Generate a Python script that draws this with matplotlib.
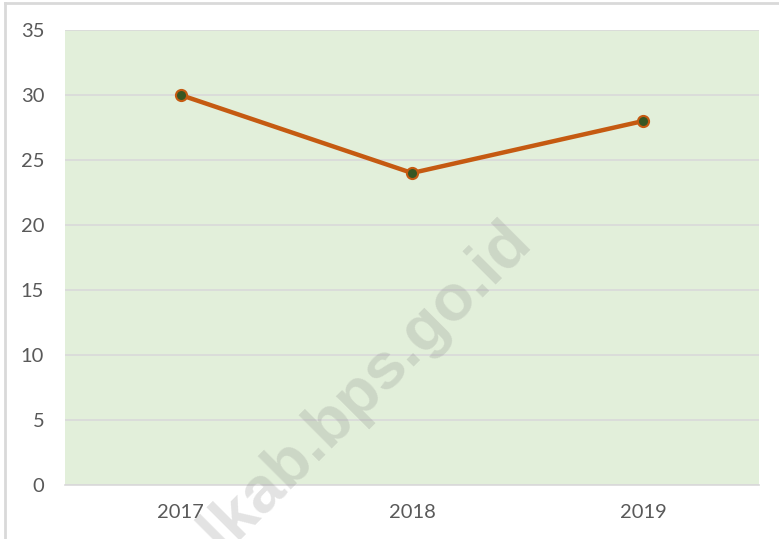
import matplotlib
matplotlib.use("Agg")
import matplotlib.pyplot as plt

years = ["2017", "2018", "2019"]
values = [30, 24, 28]
yticks = [0, 5, 10, 15, 20, 25, 30, 35]

line_color = "#C55A11"
marker_fill = "#375623"
bg_green = "#E2EFDA"
grid_gray = "#D9D9D9"
text_gray = "#595959"

plt.rcParams["font.family"] = ["Lato", "DejaVu Sans"]

W, H = 779, 539
fig = plt.figure(figsize=(W / 100, H / 100), dpi=100)
fig.patch.set_facecolor("white")

# outer chart frame (only left and top edges visible in the crop)
fig.add_artist(plt.Line2D([5 / W, 5 / W], [0, 1 - 3 / H], color=grid_gray, lw=2))
fig.add_artist(plt.Line2D([5 / W, 1], [1 - 3 / H, 1 - 3 / H], color=grid_gray, lw=2))

ax = fig.add_axes([65 / W, 54 / H, 694 / W, 455 / H])
ax.set_facecolor(bg_green)
x = list(range(len(years)))
ax.plot(x, values, color=line_color, lw=3.2, marker="o", markersize=8,
        markerfacecolor=marker_fill, markeredgecolor=line_color,
        markeredgewidth=1.5, zorder=3, solid_capstyle="round")

ax.set_xlim(-0.5, len(years) - 0.5)
ax.set_ylim(0, 35)
ax.set_yticks(yticks)
ax.set_xticks(x)
ax.set_xticklabels(years)
ax.yaxis.grid(True, color=grid_gray, lw=1.2)
ax.set_axisbelow(True)
for s in ["left", "right", "top"]:
    ax.spines[s].set_visible(False)
ax.spines["bottom"].set_color(grid_gray)
ax.spines["bottom"].set_linewidth(1.2)
ax.tick_params(axis="both", length=0, labelsize=14.5, colors=text_gray)
ax.tick_params(axis="y", pad=15)
ax.tick_params(axis="x", pad=14)

# watermark
fig.text(533 / W, 1 - 243 / H, "kendalkab.bps.go.id", rotation=45,
         rotation_mode="anchor", ha="right", va="baseline",
         fontsize=47, fontweight="bold", family="Liberation Sans",
         color="#808080", alpha=0.22, zorder=10)

fig.savefig("out.png", dpi=100)
